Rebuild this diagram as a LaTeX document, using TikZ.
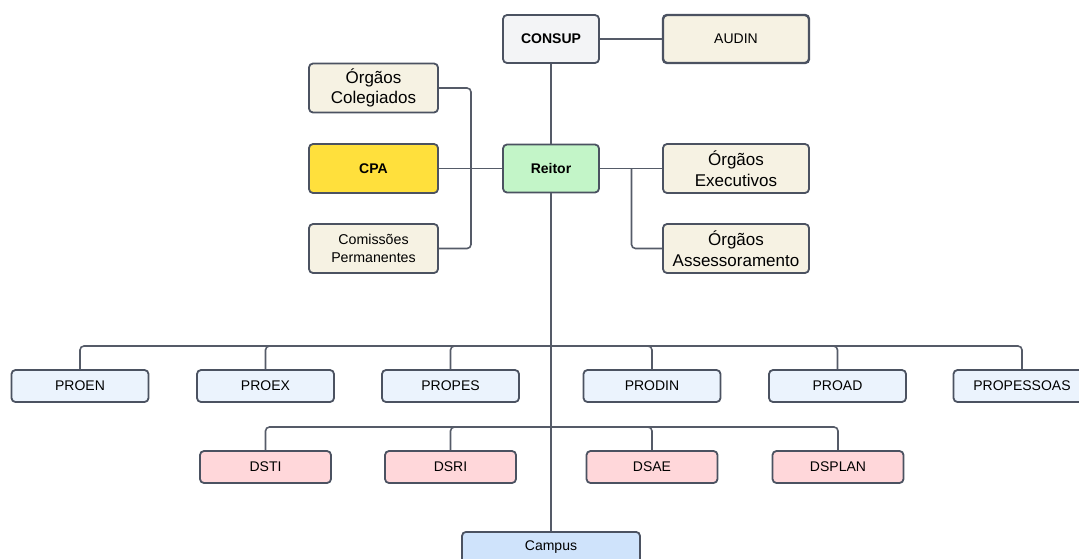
\documentclass[tikz,border=0pt]{standalone}
\usepackage{fontspec}
\setmainfont{Liberation Sans}
\definecolor{edge}{HTML}{4B5261}
\definecolor{wire}{HTML}{555B68}
\definecolor{greyfill}{HTML}{F3F4F6}
\definecolor{cream}{HTML}{F6F2E3}
\definecolor{yellowfill}{HTML}{FFE03C}
\definecolor{greenfill}{HTML}{C3F5C8}
\definecolor{bluefill}{HTML}{EBF3FD}
\definecolor{pinkfill}{HTML}{FFD7DA}
\definecolor{campusfill}{HTML}{CFE3FB}
\tikzset{
  box/.style={draw=edge, line width=1.8pt, rounded corners=4pt, align=center,
    inner sep=0pt, font=\fontsize{14}{17}\selectfont},
  top/.style={box, fill=greyfill, minimum width=96pt, minimum height=48pt, font=\fontsize{14}{17}\selectfont\bfseries},
  side/.style={box, fill=cream, minimum width=129pt, minimum height=49pt},
  aside/.style={box, fill=cream, minimum width=146pt, minimum height=49pt},
  big/.style={font=\fontsize{17}{20.5}\selectfont},
  pro/.style={box, fill=bluefill, minimum width=137pt, minimum height=32pt},
  dir/.style={box, fill=pinkfill, minimum width=131pt, minimum height=32pt},
  conn/.style={draw=wire, line width=1.6pt, rounded corners=4pt},
}
\begin{document}
\begin{tikzpicture}[x=1pt, y=-1pt]
\useasboundingbox (0,0) rectangle (1079,558);
\clip (0,0) rectangle (1079,558);
% top level
\node[top] (consup) at (551,39) {CONSUP};
\node[aside, minimum height=48pt, line width=2.4pt] (audin) at (736,39) {AUDIN};
\node[top, fill=greenfill] (reitor) at (551,168.5) {Reitor};
% left column
\node[side, big] (coleg) at (373.5,88) {Órgãos\\Colegiados};
\node[side, fill=yellowfill, font=\fontsize{14}{17}\selectfont\bfseries] (cpa) at (373.5,168.5) {CPA};
\node[side, font=\fontsize{14.2}{17.3}\selectfont] (comis) at (373.5,248.5) {Comissões\\Permanentes};
% right column
\node[aside, big] (exec) at (736,168.5) {Órgãos\\Executivos};
\node[aside, big] (assess) at (736,248.5) {Órgãos\\Assessoramento};
% pro-reitorias
\node[pro] (proen) at (80,386) {PROEN};
\node[pro] (proex) at (265.5,386) {PROEX};
\node[pro] (propes) at (450.5,386) {PROPES};
\node[pro] (prodin) at (652,386) {PRODIN};
\node[pro] (proad) at (837.5,386) {PROAD};
\node[pro] (propessoas) at (1022,386) {PROPESSOAS};
% diretorias sistemicas
\node[dir] (dsti) at (265.5,467) {DSTI};
\node[dir] (dsri) at (450.5,467) {DSRI};
\node[dir] (dsae) at (652,467) {DSAE};
\node[dir] (dsplan) at (838,467) {DSPLAN};
% campus
\node[box, fill=campusfill, minimum width=178pt, minimum height=34pt, anchor=north] (campus) at (551,531) {\raisebox{7pt}{Campus}};
% bus points
\coordinate (lbus) at (471,168.5);
\coordinate (rbus) at (631.5,168.5);
\coordinate (bus1) at (551,346);
\coordinate (bus2) at (551,427);
% connectors
\draw[conn] (consup.east) -- (audin.west);
\draw[conn] (consup.south) -- (reitor.north);
\draw[conn] (cpa.east) -- (reitor.west);
\draw[conn] (coleg.east) -| (lbus) |- (comis.east);
\draw[conn] (reitor.east) -- (exec.west);
\draw[conn] (rbus) |- (assess.west);
\draw[conn] (reitor.south) -- (campus.north);
\draw[conn] (proen.north) |- (bus1) -| (propessoas.north);
\draw[conn] (proex.north) |- (bus1);
\draw[conn] (propes.north) |- (bus1);
\draw[conn] (prodin.north) |- (bus1);
\draw[conn] (proad.north) |- (bus1);
\draw[conn] (dsti.north) |- (bus2) -| (dsplan.north);
\draw[conn] (dsri.north) |- (bus2);
\draw[conn] (dsae.north) |- (bus2);
\end{tikzpicture}
\end{document}
